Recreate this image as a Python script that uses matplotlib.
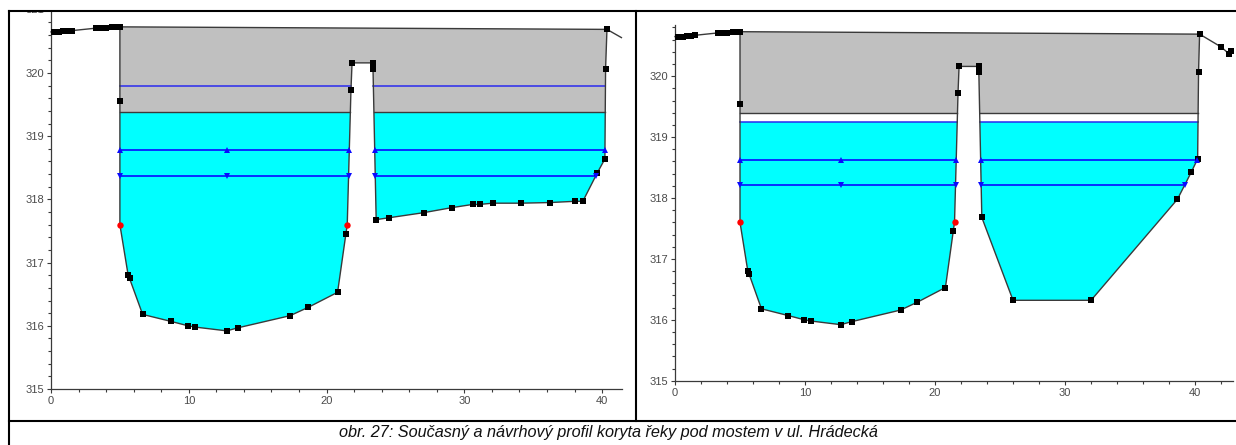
import matplotlib
matplotlib.use("Agg")
import matplotlib.pyplot as plt
from matplotlib.lines import Line2D
from matplotlib.path import Path
from matplotlib.ticker import MultipleLocator
from matplotlib.transforms import Bbox
import numpy as np

W, H = 1236, 445

bank_x = [0, 0.3, 0.6, 0.9, 1.2, 1.5, 3.3, 3.5, 3.7, 4.0, 4.45, 4.7, 4.9, 5.0, 5.0, 5.0, 5.6, 5.7, 6.65, 8.7, 9.95, 10.45,
          12.75, 13.6, 17.35, 18.65, 20.8, 21.4, 21.5, 21.77, 21.85, 23.35, 23.37, 23.37]
bank_z = [320.65, 320.65, 320.65, 320.66, 320.66, 320.67, 320.71, 320.71, 320.71, 320.71, 320.73, 320.73, 320.73, 320.73,
          319.55, 317.6, 316.8, 316.75, 316.18, 316.07, 316.0, 315.98,
          315.92, 315.97, 316.16, 316.29, 316.53, 317.45, 317.6, 319.73, 320.16, 320.16, 320.12, 320.07]

now_x = [23.6, 24.55, 27.05, 29.1, 30.6, 31.1, 32.05, 34.1, 36.2, 38.05, 38.6, 39.65, 40.2, 40.25, 40.35, 41.4]
now_z = [317.68, 317.71, 317.79, 317.87, 317.92, 317.92, 317.94, 317.94, 317.95, 317.97, 317.97, 318.42, 318.64, 320.07, 320.69, 320.56]

new_x = [23.6, 26.0, 32.0, 38.65, 39.7, 40.2, 40.27, 40.35, 42.0, 42.6, 42.77]
new_z = [317.68, 316.32, 316.32, 317.98, 318.42, 318.64, 320.07, 320.69, 320.48, 320.37, 320.41]

red_x = [5.0, 21.5]
red_z = [317.6, 317.6]

now_bridge, now_lines, now_tri_up, now_tri_down = 319.39, [319.8], 318.78, 318.37
new_bridge, new_lines, new_tri_up, new_tri_down = 319.39, [319.25], 318.62, 318.21
now_water, new_water = 319.39, 319.25
mid_x = 12.75

y_labels = [315, 316, 317, 318, 319, 320]
x_labels = [0, 10, 20, 30, 40]
caption = "obr. 27: Současný a návrhový profil koryta řeky pod mostem v ul. Hrádecká"

plt.rcParams['font.family'] = ['Liberation Sans', 'DejaVu Sans']
fig = plt.figure(figsize=(W / 100, H / 100), dpi=100)
TXT = '#4a4a4a'
LINE = '#3a3a3a'


def crossings(x, z, level):
    out = []
    for i in range(len(x) - 1):
        a, b = z[i], z[i + 1]
        if (a - level) * (b - level) < 0:
            out.append(x[i] + (level - a) / (b - a) * (x[i + 1] - x[i]))
    return sorted(out)


def panel(px0, px1, ptop, pbot, xmax, ymax, tail_x, tail_z, bridge, blue, up, down, water, mark_last):
    ax = fig.add_axes([px0 / W, 1 - pbot / H, (px1 - px0) / W, (pbot - ptop) / H])
    ax.set_xlim(0, xmax)
    ax.set_ylim(315, ymax)
    x = np.array(bank_x + tail_x, float)
    z = np.array(bank_z + tail_z, float)
    i0 = 13
    i1 = len(bank_x) + list(tail_x).index(40.35)
    poly = Path(np.column_stack([x[i0:i1 + 1], z[i0:i1 + 1]]))
    g = ax.axhspan(bridge, 322, color='#c0c0c0', lw=0, zorder=1)
    g.set_clip_path(poly, ax.transData)
    c = ax.axhspan(314, water, color='#00ffff', lw=0, zorder=1)
    c.set_clip_path(poly, ax.transData)
    ax.plot([x[i0], x[i1]], [z[i0], z[i1]], color=LINE, lw=1, zorder=3)
    cb = crossings(x[i0:i1 + 1], z[i0:i1 + 1], bridge)
    for a, b in zip(cb[::2], cb[1::2]):
        ax.plot([a, b], [bridge, bridge], color=LINE, lw=1, zorder=3)
    for lv in blue:
        cr = crossings(x[i0:i1 + 1], z[i0:i1 + 1], lv)
        for a, b in zip(cr[::2], cr[1::2]):
            ax.plot([a, b], [lv, lv], color='#2a2aee', lw=1.1, zorder=3)
    for lv, mk in ((up, '^'), (down, 'v')):
        cr = crossings(x[i0:i1 + 1], z[i0:i1 + 1], lv)
        for a, b in zip(cr[::2], cr[1::2]):
            ax.plot([a, b], [lv, lv], color='#0a0aff', lw=1.2, zorder=4)
        ax.plot(cr + [mid_x], [lv] * (len(cr) + 1), ls='none', marker=mk, ms=4, color='#0a0aff', mew=0, zorder=6)
    ax.plot(x, z, color=LINE, lw=1, zorder=4, clip_on=False)
    keep = ~np.isin(z, red_z)
    if not mark_last:
        keep[-1] = False
    ax.plot(x[keep], z[keep], ls='none', marker='s', ms=3.9, color='black', mew=0, zorder=5)
    ax.plot(red_x, red_z, ls='none', marker='o', ms=4.6, color='#ff0000', mew=0, zorder=6)

    for s in ('top', 'right'):
        ax.spines[s].set_visible(False)
    for s in ('left', 'bottom'):
        ax.spines[s].set_color(LINE)
        ax.spines[s].set_linewidth(0.9)
    ax.set_xticks(x_labels)
    ax.set_xticklabels([str(v) for v in x_labels])
    ax.set_yticks(y_labels)
    ax.set_yticklabels([str(v) for v in y_labels])
    ax.xaxis.set_minor_locator(MultipleLocator(2))
    ax.yaxis.set_minor_locator(MultipleLocator(0.2))
    ax.tick_params(which='major', length=3, width=0.8, color=LINE, labelsize=8, labelcolor=TXT, pad=2)
    ax.tick_params(which='minor', length=2, width=0.8, color=LINE)
    ax.patch.set_alpha(0)
    return ax


ax1 = panel(51, 621.7, 12, 389, 41.42, 320.965, now_x, now_z, now_bridge, now_lines, now_tri_up, now_tri_down, now_water, False)
ax2 = panel(675, 1233, 25, 380.7, 42.92, 320.84, new_x, new_z, new_bridge, new_lines, new_tri_up, new_tri_down, new_water, True)

t = ax1.text(-0.5, 321, '321', ha='right', va='center', fontsize=8, color=TXT, clip_on=True)
t.set_clip_box(Bbox([[0, 0], [W, H - 12]]))

for xs, ys in (([9, 9], [11, 445]), ([636, 636], [11, 421]), ([9, 1236], [11, 11]), ([9, 1236], [421, 421])):
    fig.add_artist(Line2D([v / W for v in xs], [1 - v / H for v in ys], color='black', lw=1.5,
                          transform=fig.transFigure, solid_capstyle='projecting'))

fig.text(608.5 / W, 1 - 433 / H, caption, ha='center', va='center', fontsize=11.7, style='italic', color='#111111')
fig.savefig('out.png', dpi=100)
